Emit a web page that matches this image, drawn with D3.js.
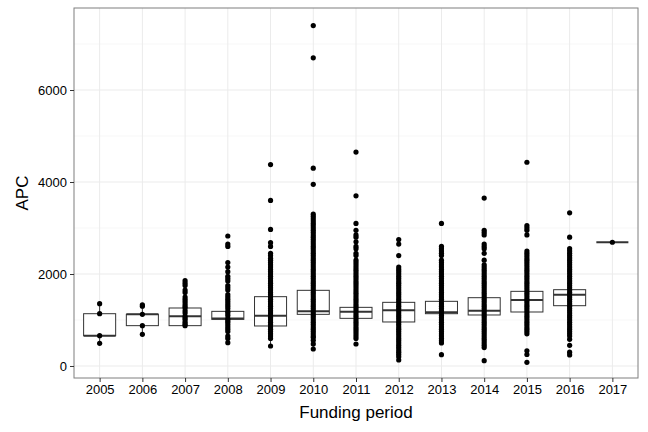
<!DOCTYPE html>
<html><head><meta charset="utf-8">
<script src="https://cdn.jsdelivr.net/npm/d3@7"></script>
<style>body{margin:0;background:#fff}</style>
</head><body><div id="chart"></div>
<script>
var years = ['2005','2006','2007','2008','2009','2010','2011','2012','2013','2014','2015','2016','2017'];
var q1 =  [660, 877, 877, 1014, 870, 1123, 1036, 957, 1137, 1109, 1174, 1311, 2690];
var med = [660, 1123, 1080, 1030, 1094, 1188, 1181, 1210, 1166, 1203, 1435, 1551, 2690];
var q3 =  [1137, 1123, 1261, 1188, 1507, 1645, 1275, 1384, 1406, 1485, 1623, 1659, 2690];
var points = [
  [1355, 1137, 660, 493],
  [1330, 1300, 1123, 877, 689],
  [1855, 1800, 1750, 1650, 1600, 1500, 1450, 1400, 1350, 1300, 1261, 1200, 1150, 1080, 1040, 1000, 950, 910, 877],
  [2826, 2650, 2600, 2250, 2150, 2050, 1950, 1900, 1850, 1750, 1700, 1650, 1550, 1500, 1450, 1400, 1350, 1300, 1250, 1188, 1150, 1100, 1030, 990, 950, 900, 850, 800, 750, 650, 600, 507],
  [4380, 3600, 2970, 2680, 2600, 2450, 2400, 2340, 2300, 2250, 2200, 2150, 2100, 2050, 2000, 1950, 1900, 1850, 1800, 1750, 1700, 1650, 1600, 1550, 1500, 1450, 1400, 1350, 1300, 1250, 1200, 1150, 1100, 1050, 1000, 950, 900, 850, 800, 750, 700, 650, 600, 435],
  [7400, 6700, 4300, 3950, 3300, 3250, 3200, 3150, 3100, 3050, 3000, 2950, 2900, 2850, 2800, 2750, 2700, 2650, 2600, 2550, 2500, 2450, 2400, 2350, 2300, 2250, 2200, 2150, 2100, 2050, 2000, 1950, 1900, 1850, 1800, 1750, 1700, 1650, 1600, 1550, 1500, 1450, 1400, 1350, 1300, 1250, 1200, 1150, 1100, 1050, 1000, 950, 900, 850, 800, 750, 700, 650, 620, 560, 480, 370],
  [4650, 3700, 3100, 2950, 2850, 2800, 2700, 2600, 2550, 2450, 2400, 2300, 2250, 2200, 2150, 2100, 2050, 2000, 1950, 1900, 1850, 1800, 1750, 1700, 1650, 1600, 1550, 1500, 1450, 1400, 1350, 1300, 1250, 1200, 1150, 1100, 1050, 1000, 950, 900, 850, 800, 750, 700, 650, 600, 478],
  [2750, 2650, 2400, 2150, 2100, 2050, 2000, 1950, 1900, 1850, 1800, 1750, 1700, 1650, 1600, 1550, 1500, 1450, 1400, 1350, 1300, 1250, 1200, 1150, 1100, 1050, 1000, 950, 900, 850, 800, 750, 700, 650, 600, 550, 500, 450, 400, 350, 300, 250, 200, 130],
  [3100, 2600, 2550, 2500, 2450, 2400, 2300, 2250, 2200, 2150, 2100, 2050, 2000, 1950, 1900, 1850, 1800, 1750, 1700, 1650, 1600, 1550, 1500, 1450, 1400, 1350, 1300, 1250, 1200, 1150, 1100, 1050, 1000, 950, 900, 850, 800, 750, 700, 650, 600, 550, 500, 246],
  [3650, 2950, 2900, 2850, 2650, 2600, 2550, 2450, 2300, 2200, 2150, 2100, 2050, 2000, 1950, 1900, 1850, 1800, 1750, 1700, 1650, 1600, 1550, 1500, 1450, 1400, 1350, 1300, 1250, 1200, 1150, 1100, 1050, 1000, 950, 900, 850, 800, 750, 700, 650, 600, 550, 500, 450, 400, 116],
  [4430, 3050, 3000, 2950, 2850, 2500, 2450, 2400, 2350, 2300, 2250, 2200, 2150, 2100, 2050, 2000, 1950, 1900, 1850, 1800, 1750, 1700, 1650, 1600, 1550, 1500, 1450, 1400, 1350, 1300, 1250, 1200, 1150, 1100, 1050, 1000, 950, 900, 850, 800, 750, 700, 330, 250, 80],
  [3330, 2800, 2550, 2500, 2450, 2400, 2350, 2300, 2250, 2200, 2150, 2100, 2050, 2000, 1950, 1900, 1850, 1800, 1750, 1700, 1650, 1600, 1550, 1500, 1450, 1400, 1350, 1300, 1250, 1200, 1150, 1100, 1050, 1000, 950, 900, 850, 800, 750, 700, 650, 580, 450, 300, 240],
  [2690]
];
var yTicks = [0, 2000, 4000, 6000];
var yMinor = [1000, 3000, 5000, 7000];

var W = 648, H = 432;
var L = 74, R = 638, T = 8, B = 378;
var svg = d3.select('#chart').append('svg').attr('width', W).attr('height', H)
  .style('font-family', 'Liberation Sans, Arial, sans-serif');
var x = d3.scalePoint().domain(years).range([L, R]).padding(0.6);
var step = x.step();
var y = d3.scaleLinear().domain([-261, 7783]).range([B, T]);

svg.append('rect').attr('x', L).attr('y', T).attr('width', R - L).attr('height', B - T).attr('fill', '#fff');
svg.append('g').selectAll('line').data(yMinor).enter().append('line')
  .attr('x1', L).attr('x2', R).attr('y1', function (d) { return y(d); }).attr('y2', function (d) { return y(d); })
  .attr('stroke', '#f2f2f2').attr('stroke-width', 0.6);
svg.append('g').selectAll('line').data(yTicks).enter().append('line')
  .attr('x1', L).attr('x2', R).attr('y1', function (d) { return y(d); }).attr('y2', function (d) { return y(d); })
  .attr('stroke', '#ebebeb').attr('stroke-width', 1);
svg.append('g').selectAll('line').data(years).enter().append('line')
  .attr('y1', T).attr('y2', B).attr('x1', function (d) { return x(d); }).attr('x2', function (d) { return x(d); })
  .attr('stroke', '#ebebeb').attr('stroke-width', 1);

var bw = step * 0.75;
years.forEach(function (yr, i) {
  var cx = x(yr), iqr = q3[i] - q1[i];
  var inside = points[i].filter(function (v) { return v >= q1[i] - 1.5 * iqr && v <= q3[i] + 1.5 * iqr; });
  var lo = Math.min(q1[i], d3.min(inside)), hi = Math.max(q3[i], d3.max(inside));
  var g = svg.append('g');
  g.append('line').attr('x1', cx).attr('x2', cx).attr('y1', y(hi)).attr('y2', y(q3[i])).attr('stroke', '#333');
  g.append('line').attr('x1', cx).attr('x2', cx).attr('y1', y(lo)).attr('y2', y(q1[i])).attr('stroke', '#333');
  g.append('rect').attr('x', cx - bw / 2).attr('width', bw)
    .attr('y', y(q3[i])).attr('height', Math.max(0, y(q1[i]) - y(q3[i])))
    .attr('fill', '#fff').attr('stroke', '#333').attr('stroke-width', 1);
  g.append('line').attr('x1', cx - bw / 2).attr('x2', cx + bw / 2).attr('y1', y(med[i])).attr('y2', y(med[i]))
    .attr('stroke', '#333').attr('stroke-width', 2);
  g.selectAll('circle').data(points[i]).enter().append('circle')
    .attr('cx', cx).attr('cy', function (d) { return y(d); }).attr('r', 2.6).attr('fill', '#000');
});

svg.append('rect').attr('x', L).attr('y', T).attr('width', R - L).attr('height', B - T)
  .attr('fill', 'none').attr('stroke', '#7f7f7f').attr('stroke-width', 1);

svg.append('g').attr('transform', 'translate(0,' + B + ')')
  .call(d3.axisBottom(x).tickSize(4).tickPadding(3))
  .call(function (g) {
    g.select('.domain').remove();
    g.selectAll('.tick line').attr('stroke', '#333');
    g.selectAll('text').attr('fill', '#000').style('font-size', '13px');
  });
svg.append('g').attr('transform', 'translate(' + L + ',0)')
  .call(d3.axisLeft(y).tickValues(yTicks).tickFormat(d3.format('d')).tickSize(4).tickPadding(3))
  .call(function (g) {
    g.select('.domain').remove();
    g.selectAll('.tick line').attr('stroke', '#333');
    g.selectAll('text').attr('fill', '#000').style('font-size', '13px');
  });

svg.append('text').attr('x', (L + R) / 2).attr('y', 418).attr('text-anchor', 'middle')
  .style('font-size', '17px').text('Funding period');
svg.append('text').attr('transform', 'rotate(-90)').attr('x', -(T + B) / 2).attr('y', 28)
  .attr('text-anchor', 'middle').style('font-size', '17px').text('APC');
</script></body></html>
